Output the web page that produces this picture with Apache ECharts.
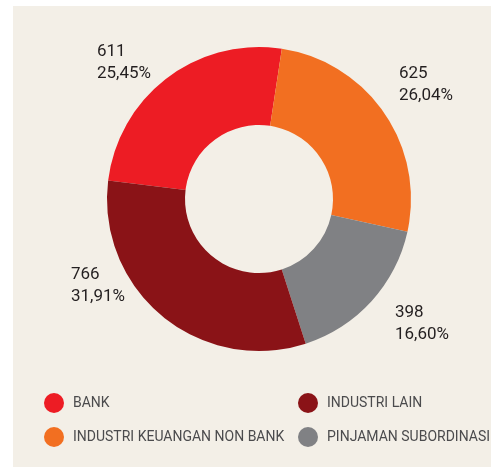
<!DOCTYPE html>
<html>
<head>
<meta charset="utf-8">
<script src="https://cdn.jsdelivr.net/npm/echarts@6/dist/echarts.min.js"></script>
<style>
  html, body { margin: 0; padding: 0; background: #ffffff; }
  #main { width: 491px; height: 468px; }
</style>
</head>
<body>
<div id="main"></div>
<script>
  // data
  var categories = ["BANK", "INDUSTRI KEUANGAN NON BANK", "PINJAMAN SUBORDINASI", "INDUSTRI LAIN"];
  var values = [611, 625, 398, 766];
  var percentLabels = ["25,45%", "26,04%", "16,60%", "31,91%"];
  var colors = ["#ed1c24", "#f26f21", "#808184", "#8a1317"];

  // where each label block sits (top-left), by slice
  var labelPos = [[97, 41], [399, 63], [395, 302], [71, 264]];

  var font = "Roboto, 'Noto Sans', sans-serif";

  var myChart = echarts.init(document.getElementById("main"));

  var legendText = { fontFamily: font, fontSize: 14, color: "#4b4b4d", padding: [0, 0, 0, 4] };

  var option = {
    animation: false,
    backgroundColor: "#ffffff",
    graphic: [
      {
        type: "rect",
        z: -10,
        shape: { x: 13, y: 6, width: 478, height: 461 },
        style: { fill: "#f3efe7" }
      }
    ],
    legend: [
      {
        data: ["BANK", "INDUSTRI KEUANGAN NON BANK"],
        orient: "vertical",
        left: 39,
        top: 388,
        icon: "circle",
        itemWidth: 20,
        itemHeight: 20,
        itemGap: 14,
        selectedMode: false,
        textStyle: legendText
      },
      {
        data: ["INDUSTRI LAIN", "PINJAMAN SUBORDINASI"],
        orient: "vertical",
        left: 293,
        top: 388,
        icon: "circle",
        itemWidth: 20,
        itemHeight: 20,
        itemGap: 14,
        selectedMode: false,
        textStyle: legendText
      }
    ],
    series: [
      {
        type: "pie",
        center: [259, 199],
        radius: [74, 152],
        startAngle: 173,
        clockwise: true,
        emphasis: { disabled: true },
        itemStyle: { borderWidth: 0 },
        labelLine: { show: false },
        label: {
          show: true,
          position: "inside",
          overflow: "none",
          formatter: function (p) {
            return "{v|" + p.value + "}\n{p|" + percentLabels[p.dataIndex] + "}";
          },
          rich: {
            v: { fontFamily: font, fontSize: 17, lineHeight: 22, color: "#231f20", align: "left" },
            p: { fontFamily: font, fontSize: 17, lineHeight: 22, color: "#231f20", align: "left" }
          }
        },
        labelLayout: function (params) {
          var pos = labelPos[params.dataIndex];
          return { x: pos[0], y: pos[1], align: "left", verticalAlign: "top" };
        },
        data: categories.map(function (name, i) {
          return { name: name, value: values[i], itemStyle: { color: colors[i] } };
        })
      }
    ]
  };

  myChart.setOption(option);
</script>
</body>
</html>
